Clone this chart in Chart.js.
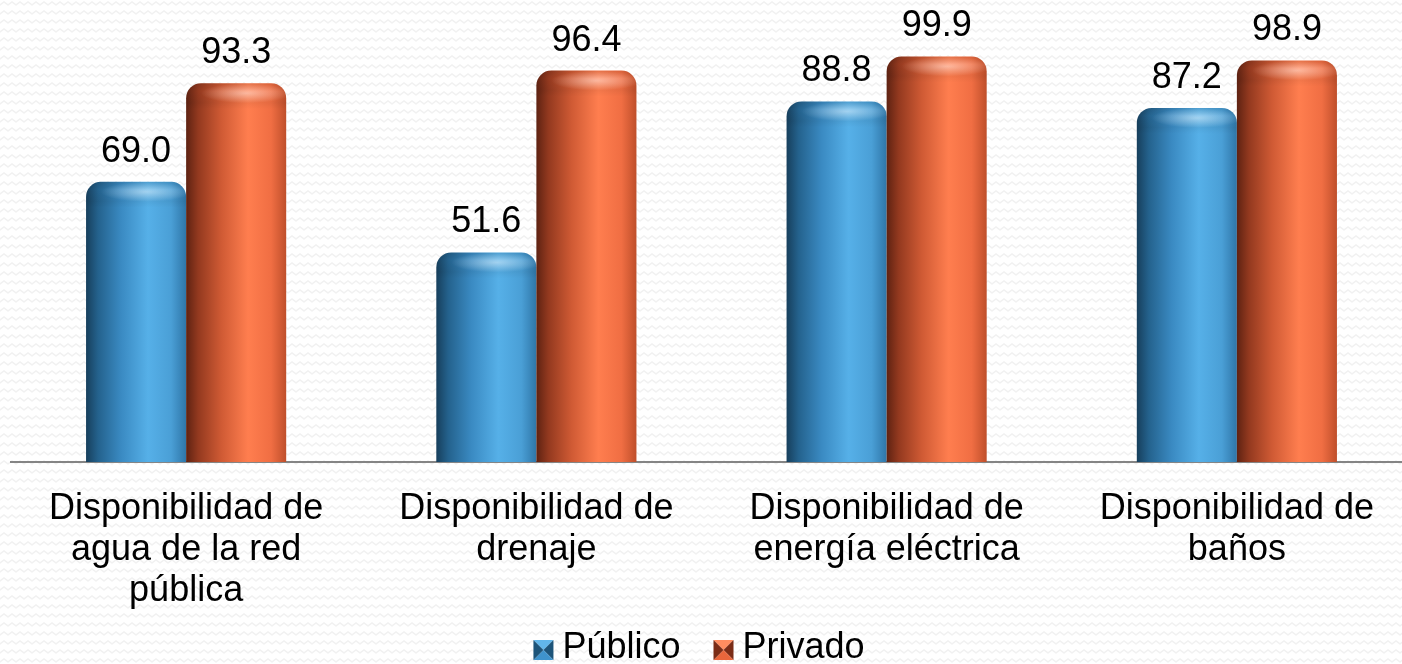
<!DOCTYPE html>
<html>
<head>
<meta charset="utf-8">
<script src="https://cdn.jsdelivr.net/npm/chart.js@4/dist/chart.umd.min.js"></script>
<style>
    html, body { margin: 0; padding: 0; overflow: hidden; background: #ffffff; }
    #wrap { width: 1412px; height: 664px; }
</style>
</head>
<body>
<div id="wrap"><canvas id="graficaServicios" width="1412" height="664"></canvas></div>
<script>
// Data:
const categorias = [
    ["Disponibilidad de", "agua de la red", "pública"],
    ["Disponibilidad de", "drenaje"],
    ["Disponibilidad de", "energía eléctrica"],
    ["Disponibilidad de", "baños"]
];
const series = ["Público", "Privado"];
const publico = [69.0, 51.6, 88.8, 87.2];
const privado = [93.3, 96.4, 99.9, 98.9];

const FONT = "'Liberation Sans', Arial, sans-serif";

// Colors for the cylinder shading (left -> right):
const tonos = [
    {
        base: "#3f93cc", light: "#62b6ea", dark: "#1d5479",
        stops: [[0, "#173f5c"], [0.12, "#24628d"], [0.35, "#3a8ac2"], [0.62, "#56b0e8"], [0.85, "#4a9fd6"], [1, "#2f76a8"]]
    },
    {
        base: "#e8663c", light: "#ff8d60", dark: "#7a2c16",
        stops: [[0, "#5e2212"], [0.12, "#93391f"], [0.35, "#cf5a34"], [0.62, "#ff7e4f"], [0.85, "#f06e43"], [1, "#bf4f2b"]]
    }
];

// Zigzag background pattern:
function makePattern(ctx)
{
    const p = document.createElement("canvas");
    p.width = 8;
    p.height = 9;
    const pc = p.getContext("2d");
    pc.fillStyle = "#ffffff";
    pc.fillRect(0, 0, 8, 9);
    pc.strokeStyle = "#f1f1f1";
    pc.lineWidth = 1.5;
    pc.beginPath();
    pc.moveTo(-2, 7);
    pc.lineTo(0, 5);
    pc.lineTo(4, 2);
    pc.lineTo(8, 5);
    pc.lineTo(10, 7);
    pc.stroke();
    return ctx.createPattern(p, "repeat");
}

// Rounded-top rectangle path:
function topRounded(ctx, left, top, w, bottom, r)
{
    r = Math.min(r, (bottom - top) / 2, w / 2);
    ctx.beginPath();
    ctx.moveTo(left, bottom);
    ctx.arcTo(left, top, left + w, top, r);
    ctx.arcTo(left + w, top, left + w, bottom, r);
    ctx.lineTo(left + w, bottom);
    ctx.closePath();
}

const fondoPlugin = {
    id: "fondo",
    beforeDraw(chart)
    {
        const ctx = chart.ctx;
        ctx.save();
        ctx.fillStyle = makePattern(ctx);
        ctx.fillRect(0, 0, chart.width, chart.height);
        ctx.restore();
    }
};

// Repaint bars as cylinders and write the values:
const cilindrosPlugin = {
    id: "cilindros",
    afterDatasetsDraw(chart)
    {
        const ctx = chart.ctx;
        chart.data.datasets.forEach(function (ds, di) {
            const meta = chart.getDatasetMeta(di);
            meta.data.forEach(function (bar, i) {
                const left = bar.x - bar.width / 2;
                const w = bar.width;
                const top = bar.y;
                const bottom = bar.base;

                const grad = ctx.createLinearGradient(left, 0, left + w, 0);
                tonos[di].stops.forEach(function (s) { grad.addColorStop(s[0], s[1]); });

                ctx.save();
                topRounded(ctx, left, top, w, bottom, 15);
                ctx.fillStyle = grad;
                ctx.fill();
                ctx.clip();

                // light cap on top:
                ctx.save();
                ctx.translate(bar.x + w * 0.1, top + 10);
                ctx.scale(1, 0.22);
                const cap = ctx.createRadialGradient(0, 0, 1, 0, 0, w * 0.45);
                cap.addColorStop(0, "rgba(255,255,255,0.45)");
                cap.addColorStop(1, "rgba(255,255,255,0)");
                ctx.fillStyle = cap;
                ctx.fillRect(-w, -w, 2 * w, 2 * w);
                ctx.restore();

                const sombra = ctx.createLinearGradient(0, top, 0, top + 26);
                sombra.addColorStop(0, "rgba(0,0,0,0.10)");
                sombra.addColorStop(0.3, "rgba(0,0,0,0)");
                sombra.addColorStop(0.75, "rgba(0,0,0,0.05)");
                sombra.addColorStop(1, "rgba(0,0,0,0)");
                ctx.fillStyle = sombra;
                ctx.fillRect(left, top, w, 26);
                ctx.restore();

                // value label:
                ctx.save();
                ctx.fillStyle = "#000000";
                ctx.font = "36px " + FONT;
                ctx.textAlign = "center";
                ctx.textBaseline = "alphabetic";
                ctx.fillText(ds.data[i].toFixed(1), bar.x, top - 20);
                ctx.restore();
            });
        });
    }
};

// Legend drawn by hand (pyramid style boxes):
function drawBox(ctx, x, y, s, tono)
{
    const c = [x + s / 2, y + s / 2];
    const caras = [
        [[x, y], [x + s, y], tono.light],
        [[x + s, y], [x + s, y + s], tono.dark],
        [[x + s, y + s], [x, y + s], tono.base],
        [[x, y + s], [x, y], tono.dark]
    ];
    caras.forEach(function (f) {
        ctx.beginPath();
        ctx.moveTo(f[0][0], f[0][1]);
        ctx.lineTo(f[1][0], f[1][1]);
        ctx.lineTo(c[0], c[1]);
        ctx.closePath();
        ctx.fillStyle = f[2];
        ctx.fill();
    });
}

const leyendaPlugin = {
    id: "leyenda",
    afterDraw(chart)
    {
        const ctx = chart.ctx;
        ctx.save();
        ctx.font = "36px " + FONT;
        const box = 20, gap = 9, sep = 33;
        const widths = series.map(function (s) { return ctx.measureText(s).width; });
        let total = 0;
        widths.forEach(function (w, i) { total += box + gap + w + (i > 0 ? sep : 0); });
        let x = 699 - total / 2;
        const baseline = 658;
        series.forEach(function (s, i) {
            drawBox(ctx, x, 640, box, tonos[i]);
            ctx.fillStyle = "#000000";
            ctx.textAlign = "left";
            ctx.textBaseline = "alphabetic";
            ctx.fillText(s, x + box + gap, baseline);
            x += box + gap + widths[i] + sep;
        });
        ctx.restore();
    }
};

function drawChart(canvas)
{
    const ctx = document.getElementById(canvas).getContext("2d");
    const chart = new Chart(ctx,
    {
        type: "bar",
        data: {
            labels: categorias,
            datasets: [
                {label: series[0], data: publico, backgroundColor: "rgba(0,0,0,0)"},
                {label: series[1], data: privado, backgroundColor: "rgba(0,0,0,0)"}
            ]
        },
        options: {
            responsive: false,
            animation: false,
            devicePixelRatio: 1,
            datasets: {
                bar: {categoryPercentage: 0.5714, barPercentage: 1.0, borderWidth: 0}
            },
            layout: {
                padding: {left: 11, right: 0, top: 0, bottom: 25}
            },
            scales: {
                x: {
                    grid: {display: false, drawTicks: false},
                    border: {display: true, color: "#858585", width: 2},
                    ticks: {
                        color: "#000000",
                        font: {family: FONT, size: 36, lineHeight: 1.14},
                        padding: 27,
                        maxRotation: 0,
                        autoSkip: false
                    }
                },
                y: {
                    display: false,
                    min: 0,
                    max: 113.8
                }
            },
            plugins: {
                colors: {enabled: false},
                tooltip: {enabled: false},
                legend: {display: false}
            }
        },
        plugins: [fondoPlugin, cilindrosPlugin, leyendaPlugin]
    });
    return chart;
}

drawChart("graficaServicios");
</script>
</body>
</html>
